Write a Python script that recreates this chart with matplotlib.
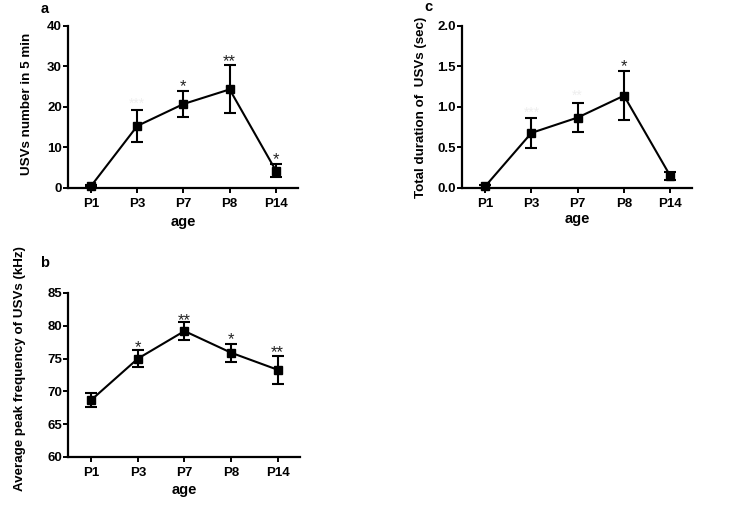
import matplotlib
matplotlib.use("Agg")
import matplotlib.pyplot as plt
import numpy as np

plt.rcParams['font.family'] = ['Liberation Sans', 'DejaVu Sans']

# ---- data ----
ages = ["P1", "P3", "P7", "P8", "P14"]

usv_count = [0.5, 15.3, 20.7, 24.3, 4.3]
usv_count_err = [0.3, 3.9, 3.1, 5.9, 1.5]
usv_count_stars = ["", "", "*", "**", "*"]
usv_count_star_y = [None, None, 26.1, 32.3, 8.1]

peak_freq = [68.7, 75.0, 79.2, 75.9, 73.3]
peak_freq_err = [1.1, 1.3, 1.35, 1.35, 2.1]
peak_freq_stars = ["", "*", "**", "*", "**"]
peak_freq_star_y = [None, 77.4, 81.6, 78.6, 76.6]

duration = [0.02, 0.68, 0.87, 1.14, 0.15]
duration_err = [0.02, 0.19, 0.175, 0.305, 0.05]
duration_stars = ["", "", "", "*", ""]
duration_star_y = [None, None, None, 1.555, None]

# faint (nearly invisible) annotations present in the reference
faint_a = {"idx": [1], "text": ["***"], "y": [22.0]}
faint_c = {"idx": [1, 2], "text": ["***", "**"], "y": [0.99, 1.19]}

W, H = 733, 509
fig = plt.figure(figsize=(W / 100, H / 100), dpi=100)


def px_axes(l, r, t, b):
    return fig.add_axes([l / W, 1 - b / H, (r - l) / W, (b - t) / H])


def style(ax, ylim, yticks, yticklabels, ylabel, ylab_x, ylab_y, xlab_y, xlim):
    for s in ["top", "right"]:
        ax.spines[s].set_visible(False)
    for s in ["left", "bottom"]:
        ax.spines[s].set_linewidth(1.6)
    ax.set_xlim(*xlim)
    ax.set_ylim(*ylim)
    ax.set_yticks(yticks)
    ax.set_yticklabels(yticklabels)
    ax.set_xticks(range(len(ages)))
    ax.set_xticklabels(ages)
    ax.tick_params(axis="both", direction="out", length=3.5, width=1.4,
                   labelsize=9.5, pad=2)
    for lab in ax.get_xticklabels() + ax.get_yticklabels():
        lab.set_fontweight("bold")
    ax.tick_params(axis="x", pad=4)
    ax.tick_params(axis="y", pad=1)
    ax.set_ylabel(ylabel, fontsize=9.6, fontweight="bold")
    ax.yaxis.set_label_coords(ylab_x, ylab_y)
    ax.set_xlabel("age", fontsize=10.5, fontweight="bold")
    ax.xaxis.set_label_coords(0.5, xlab_y)


def plot_series(ax, vals, errs, stars, star_y, faint=None):
    x = np.arange(len(vals))
    ax.errorbar(x, vals, yerr=errs, color="black", lw=1.5, marker="s",
                markersize=5.5, capsize=4, capthick=1.5, elinewidth=1.5,
                clip_on=False, zorder=3)
    for i, (s, y) in enumerate(zip(stars, star_y)):
        if s:
            ax.annotate(s, xy=(i, y), xytext=(0, -6.8), textcoords="offset points",
                        ha="center", va="baseline", fontsize=12, color="#222222")
    if faint:
        for i, s, y in zip(faint["idx"], faint["text"], faint["y"]):
            ax.annotate(s, xy=(i, y), xytext=(0, -6.2), textcoords="offset points",
                        ha="center", va="baseline", fontsize=10, color="#eeeeee")


# panel a
ax_a = px_axes(68, 298, 25.7, 188)
plot_series(ax_a, usv_count, usv_count_err, usv_count_stars, usv_count_star_y, faint_a)
style(ax_a, (0, 40), [0, 10, 20, 30, 40], ["0", "10", "20", "30", "40"],
      "USVs number in 5 min", -0.15, 0.52, -0.165, (-0.5, 4.48))

# panel c
ax_c = px_axes(462, 692, 26, 188)
plot_series(ax_c, duration, duration_err, duration_stars, duration_star_y, faint_c)
style(ax_c, (0, 2.0), [0, 0.5, 1.0, 1.5, 2.0], ["0.0", "0.5", "1.0", "1.5", "2.0"],
      "Total duration of  USVs (sec)", -0.15, 0.50, -0.15, (-0.5, 4.47))

# panel b
ax_b = px_axes(68, 300, 293, 457)
plot_series(ax_b, peak_freq, peak_freq_err, peak_freq_stars, peak_freq_star_y)
style(ax_b, (60, 85), [60, 65, 70, 75, 80, 85], ["60", "65", "70", "75", "80", "85"],
      "Average peak frequency of USVs (kHz)", -0.18, 0.54, -0.16, (-0.5, 4.48))

# panel letters
fig.text(45 / W, 1 - 9 / H, "a", fontsize=10.5, fontweight="bold", ha="center", va="center")
fig.text(45 / W, 1 - 263 / H, "b", fontsize=10.5, fontweight="bold", ha="center", va="center")
fig.text(428 / W, 1 - 7 / H, "c", fontsize=10.5, fontweight="bold", ha="center", va="center")

fig.savefig("out.png", dpi=100, facecolor="white")
